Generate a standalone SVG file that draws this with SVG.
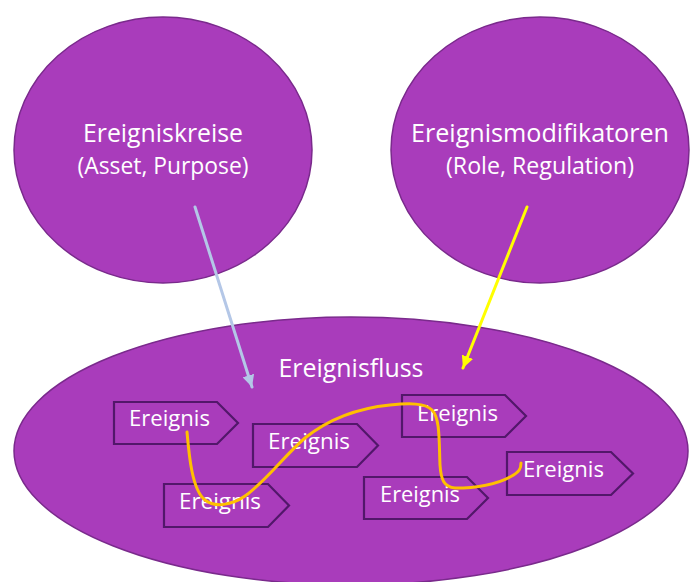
<svg xmlns="http://www.w3.org/2000/svg" width="694" height="582" viewBox="0 0 694 582">
  <style>
    .blob { fill: #A93CBB; stroke: #7A2A8C; stroke-width: 1.5; }
    .evt { fill: #A93CBB; stroke: #52176A; stroke-width: 2.2; }
    .lbl { font-family: "Open Sans", "Noto Sans", sans-serif; fill: #FFFFFF; text-anchor: middle; }
    .big { font-size: 25px; }
    .sub { font-size: 23px; }
    .evtlbl { font-family: "Open Sans", "Noto Sans", sans-serif; fill: #FFFFFF; font-size: 22px; }
  </style>
  <defs>
    <marker id="headBlue" markerUnits="userSpaceOnUse" markerWidth="14" markerHeight="12" refX="12" refY="6" orient="auto">
      <path d="M0,0 L12,6 L0,12 Z" fill="#B4C7E7"/>
    </marker>
    <marker id="headYellow" markerUnits="userSpaceOnUse" markerWidth="14" markerHeight="12" refX="12" refY="6" orient="auto">
      <path d="M0,0 L12,6 L0,12 Z" fill="#FFFF00"/>
    </marker>
  </defs>
  <rect width="694" height="582" fill="#FFFFFF"/>

  <g id="ereigniskreise">
    <ellipse class="blob" cx="163" cy="150" rx="149" ry="133"/>
    <text class="lbl big" x="163" y="142" textLength="160" lengthAdjust="spacingAndGlyphs">Ereigniskreise</text>
    <text class="lbl sub" x="163" y="174" textLength="171" lengthAdjust="spacingAndGlyphs">(Asset, Purpose)</text>
  </g>

  <g id="ereignismodifikatoren">
    <ellipse class="blob" cx="540" cy="150" rx="149" ry="133"/>
    <text class="lbl big" x="540" y="142" textLength="258" lengthAdjust="spacingAndGlyphs">Ereignismodifikatoren</text>
    <text class="lbl sub" x="540" y="174" textLength="188" lengthAdjust="spacingAndGlyphs">(Role, Regulation)</text>
  </g>

  <g id="ereignisfluss">
    <ellipse class="blob" cx="351" cy="451" rx="337" ry="134"/>
    <text class="lbl big" x="351" y="377" textLength="145" lengthAdjust="spacingAndGlyphs">Ereignisfluss</text>
  </g>

  <g id="ereignis-1">
    <path class="evt" d="M114,402 H217 L238,423 L217,444 H114 Z"/>
    <text class="evtlbl" x="129" y="426" textLength="81" lengthAdjust="spacingAndGlyphs">Ereignis</text>
  </g>
  <g id="ereignis-2">
    <path class="evt" d="M253,424 H357 L378,445.5 L357,467 H253 Z"/>
    <text class="evtlbl" x="268" y="449" textLength="82" lengthAdjust="spacingAndGlyphs">Ereignis</text>
  </g>
  <g id="ereignis-3">
    <path class="evt" d="M164,484 H268 L289,505.5 L268,527 H164 Z"/>
    <text class="evtlbl" x="179" y="509" textLength="82" lengthAdjust="spacingAndGlyphs">Ereignis</text>
  </g>
  <g id="ereignis-4">
    <path class="evt" d="M402,395 H505 L526,416 L505,437 H402 Z"/>
    <text class="evtlbl" x="417" y="421" textLength="81" lengthAdjust="spacingAndGlyphs">Ereignis</text>
  </g>
  <g id="ereignis-5">
    <path class="evt" d="M364,477 H467 L488,498 L467,519 H364 Z"/>
    <text class="evtlbl" x="380" y="502" textLength="80" lengthAdjust="spacingAndGlyphs">Ereignis</text>
  </g>
  <g id="ereignis-6">
    <path class="evt" d="M507,452 H611 L633,473.5 L611,495 H507 Z"/>
    <text class="evtlbl" x="523" y="477" textLength="81" lengthAdjust="spacingAndGlyphs">Ereignis</text>
  </g>

  <g id="connectors" fill="none" stroke-linecap="round">
    <line x1="195" y1="207" x2="252" y2="387" stroke="#B4C7E7" stroke-width="3" marker-end="url(#headBlue)"/>
    <line x1="527" y1="207" x2="463" y2="368" stroke="#FFFF00" stroke-width="3" marker-end="url(#headYellow)"/>
    <path d="M187,432 C189,455 192,490 205,500 C215,508 232,505 245,496 C265,482 285,455 305,438 C330,418 360,408 390,405 C410,403 425,403 432,410 C440,418 439,440 440,465 C441,480 444,487 455,488 C475,488 495,485 510,477 C520,472 521,468 521,463" stroke="#FFC000" stroke-width="3" stroke-linejoin="round"/>
  </g>
</svg>
